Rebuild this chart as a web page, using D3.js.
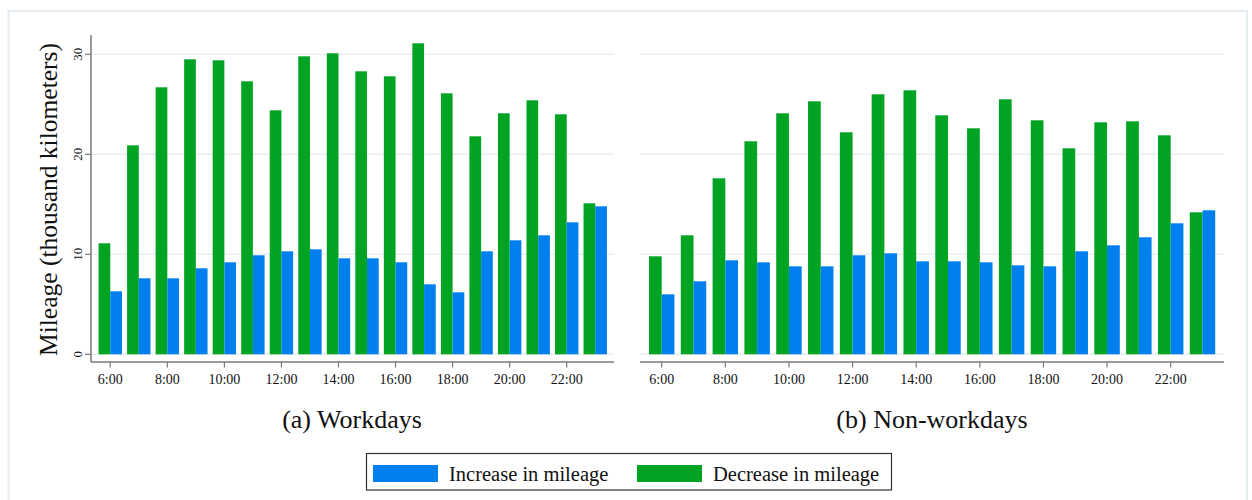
<!DOCTYPE html>
<html>
<head>
<meta charset="utf-8">
<script src="https://cdn.jsdelivr.net/npm/d3@7"></script>
<style>
  html, body { margin: 0; padding: 0; background: #fff; }
  svg { display: block; }
  text { font-family: "Liberation Serif", "Times New Roman", serif; fill: #111; }
</style>
</head>
<body>
<svg id="chart" width="1252" height="500"></svg>
<script>
// Hours of the day shown on each panel
const hours = [6, 7, 8, 9, 10, 11, 12, 13, 14, 15, 16, 17, 18, 19, 20, 21, 22, 23];
const tickHours = [6, 8, 10, 12, 14, 16, 18, 20, 22];
const yTicks = [0, 10, 20, 30];

// Mileage change, thousand kilometers
const workdayDecrease = [11.1, 20.9, 26.7, 29.5, 29.4, 27.3, 24.4, 29.8, 30.1, 28.3, 27.8, 31.1, 26.1, 21.8, 24.1, 25.4, 24.0, 15.1];
const workdayIncrease = [6.3, 7.6, 7.6, 8.6, 9.2, 9.9, 10.3, 10.5, 9.6, 9.6, 9.2, 7.0, 6.2, 10.3, 11.4, 11.9, 13.2, 14.8];
const nonworkdayDecrease = [9.8, 11.9, 17.6, 21.3, 24.1, 25.3, 22.2, 26.0, 26.4, 23.9, 22.6, 25.5, 23.4, 20.6, 23.2, 23.3, 21.9, 14.2];
const nonworkdayIncrease = [6.0, 7.3, 9.4, 9.2, 8.8, 8.8, 9.9, 10.1, 9.3, 9.3, 9.2, 8.9, 8.8, 10.3, 10.9, 11.7, 13.1, 14.4];

const panelTitles = ["(a) Workdays", "(b) Non-workdays"];
const legendLabels = ["Increase in mileage", "Decrease in mileage"];
const yTitle = "Mileage (thousand kilometers)";

const GREEN = "#01a323";
const BLUE = "#0080ee";
const AXIS = "#7a7a7a";
const GRID = "#e8eff3";

const svg = d3.select("#chart");

// outer frame
svg.append("rect")
  .attr("x", 8.5).attr("y", 11).attr("width", 1238.5).attr("height", 495)
  .attr("fill", "none").attr("stroke", "#e4ecf0").attr("stroke-width", 2);

const y = d3.scaleLinear().domain([0, 30]).range([354.3, 54.3]);

const panels = [
  { dec: workdayDecrease, inc: workdayIncrease, bandRange: [96, 609.5], pin: 0.18, pout: 0.09,
    gridX: [91, 614], axisX: [91, 614], yAxis: true, title: panelTitles[0], titleX: 352 },
  { dec: nonworkdayDecrease, inc: nonworkdayIncrease, bandRange: [645.8, 1218.4], pin: 0.2, pout: 0.1,
    gridX: [640, 1224], axisX: [640, 1224], yAxis: false, title: panelTitles[1], titleX: 932 }
];

panels.forEach(p => {
  const g = svg.append("g");
  const x = d3.scaleBand().domain(hours).range(p.bandRange)
    .paddingInner(p.pin).paddingOuter(p.pout);
  const inner = d3.scaleBand().domain(["dec", "inc"]).range([0, x.bandwidth()]);

  // horizontal gridlines
  g.append("g").selectAll("line").data(yTicks).join("line")
    .attr("x1", p.gridX[0]).attr("x2", p.gridX[1])
    .attr("y1", d => y(d)).attr("y2", d => y(d))
    .attr("stroke", GRID).attr("stroke-width", 1.5);

  // grouped bars: decrease (green) then increase (blue)
  const groups = g.append("g").selectAll("g").data(hours).join("g")
    .attr("transform", d => `translate(${x(d)},0)`);
  groups.append("rect")
    .attr("x", inner("dec")).attr("width", inner.bandwidth())
    .attr("y", (d, i) => y(p.dec[i])).attr("height", (d, i) => y(0) - y(p.dec[i]))
    .attr("fill", GREEN);
  groups.append("rect")
    .attr("x", inner("inc")).attr("width", inner.bandwidth())
    .attr("y", (d, i) => y(p.inc[i])).attr("height", (d, i) => y(0) - y(p.inc[i]))
    .attr("fill", BLUE);

  // x axis
  const axisY = 362;
  g.append("line").attr("x1", p.axisX[0]).attr("x2", p.axisX[1])
    .attr("y1", axisY).attr("y2", axisY)
    .attr("stroke", AXIS).attr("stroke-width", 1.5);
  const xt = g.append("g").selectAll("g").data(tickHours).join("g")
    .attr("transform", d => `translate(${x(d) + x.bandwidth() / 2},${axisY})`);
  xt.append("line").attr("y1", 0).attr("y2", 5.5).attr("stroke", AXIS).attr("stroke-width", 1.2);
  xt.append("text").attr("y", 22).attr("text-anchor", "middle")
    .style("font-size", "14px").text(d => d + ":00");

  // y axis on the first panel only
  if (p.yAxis) {
    g.append("line").attr("x1", 91).attr("x2", 91).attr("y1", 35).attr("y2", axisY)
      .attr("stroke", AXIS).attr("stroke-width", 1.5);
    const yt = g.append("g").selectAll("g").data(yTicks).join("g")
      .attr("transform", d => `translate(91,${y(d)})`);
    yt.append("line").attr("x1", 0).attr("x2", -6).attr("stroke", AXIS).attr("stroke-width", 1.2);
    yt.append("text").attr("transform", "translate(-9,0) rotate(-90)")
      .attr("text-anchor", "middle").style("font-size", "13px").text(d => d);
    g.append("text")
      .attr("transform", `translate(57,${(42 + 357) / 2}) rotate(-90)`)
      .attr("text-anchor", "middle").style("font-size", "25.5px").text(yTitle);
  }

  // panel caption
  g.append("text").attr("x", p.titleX).attr("y", 428).attr("text-anchor", "middle")
    .style("font-size", "26px").text(p.title);
});

// legend
const lg = svg.append("g");
lg.append("rect").attr("x", 366.5).attr("y", 453.5).attr("width", 525).attr("height", 36.5)
  .attr("fill", "#fff").attr("stroke", "#333").attr("stroke-width", 1.2);
const legendItems = [
  { label: legendLabels[0], color: BLUE, x: 373 },
  { label: legendLabels[1], color: GREEN, x: 637 }
];
const li = lg.selectAll("g.item").data(legendItems).join("g").attr("class", "item")
  .attr("transform", d => `translate(${d.x},0)`);
li.append("rect").attr("x", 0).attr("y", 465).attr("width", 65).attr("height", 17)
  .attr("fill", d => d.color);
li.append("text").attr("x", 76).attr("y", 481).style("font-size", "20.5px").text(d => d.label);
</script>
</body>
</html>
